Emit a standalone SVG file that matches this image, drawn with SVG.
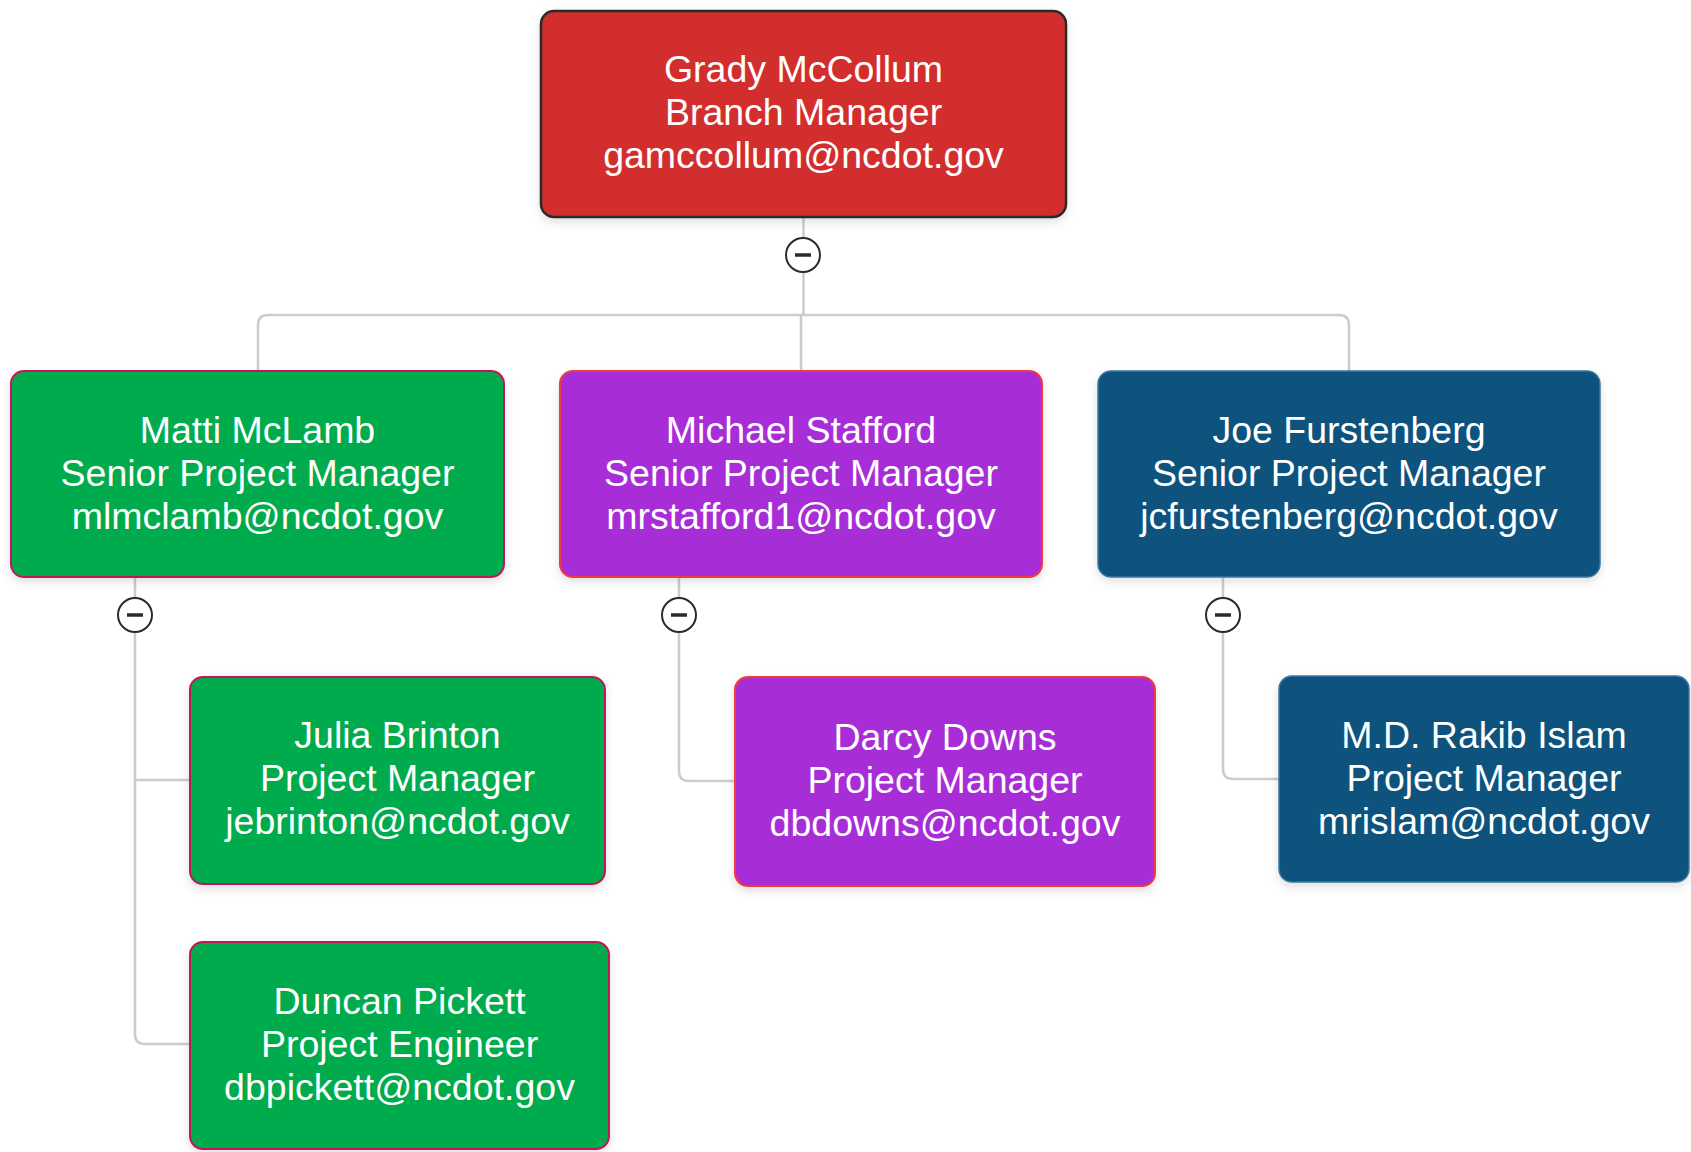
<svg xmlns="http://www.w3.org/2000/svg" width="1691" height="1152" viewBox="0 0 1691 1152">
<defs>
<filter id="sh" x="-10%" y="-10%" width="120%" height="130%">
<feDropShadow dx="0" dy="4" stdDeviation="5" flood-color="#000" flood-opacity="0.12"/>
</filter>
</defs>
<style>
.box{filter:url(#sh);}
.red{fill:#D32F2F;stroke:#2a2a2a;stroke-width:2.5;}
.green{fill:#00AB4E;stroke:#C2185B;stroke-width:2;}
.purple{fill:#A72ED6;stroke:#F03A3A;stroke-width:2;}
.blue{fill:#08527E;stroke:#3D77A3;stroke-width:1.5;}
.t{font-family:"Liberation Sans",Arial,sans-serif;font-size:37.5px;fill:#fff;text-anchor:middle;}
.conn{fill:none;stroke:#CCCCCC;stroke-width:2.5;}
.tog circle{fill:#fff;stroke:#2b2b2b;stroke-width:2;}
.tog line{stroke:#2b2b2b;stroke-width:3.5;}
</style>
<rect width="1691" height="1152" fill="#fff"/>
<g id="connectors">
<path class="conn" d="M803.5,217 V315"/>
<path class="conn" d="M258,371 V325 Q258,315 268,315 H1339 Q1349,315 1349,325 V371"/>
<path class="conn" d="M801,315 V371"/>
<path class="conn" d="M135,577 V1034 Q135,1044 145,1044 H190"/>
<path class="conn" d="M135,780 H190"/>
<path class="conn" d="M679,577 V771 Q679,781 689,781 H735"/>
<path class="conn" d="M1223,577 V769 Q1223,779 1233,779 H1279"/>
</g>
<g id="toggles">
<g class="tog"><circle cx="803" cy="255" r="17"/><line x1="795" y1="255" x2="811" y2="255"/></g>
<g class="tog"><circle cx="135" cy="615" r="17"/><line x1="127" y1="615" x2="143" y2="615"/></g>
<g class="tog"><circle cx="679" cy="615" r="17"/><line x1="671" y1="615" x2="687" y2="615"/></g>
<g class="tog"><circle cx="1223" cy="615" r="17"/><line x1="1215" y1="615" x2="1231" y2="615"/></g>
</g>
<g id="node-grady">
<rect class="box red" x="541" y="11" width="525" height="206" rx="13"/>
<text class="t" x="803.5" y="82">Grady McCollum<tspan x="803.5" dy="43">Branch Manager</tspan><tspan x="803.5" dy="43">gamccollum@ncdot.gov</tspan></text>
</g>
<g id="node-matti">
<rect class="box green" x="11" y="371" width="493" height="206" rx="13"/>
<text class="t" x="257.5" y="443">Matti McLamb<tspan x="257.5" dy="43">Senior Project Manager</tspan><tspan x="257.5" dy="43">mlmclamb@ncdot.gov</tspan></text>
</g>
<g id="node-michael">
<rect class="box purple" x="560" y="371" width="482" height="206" rx="13"/>
<text class="t" x="801" y="443">Michael Stafford<tspan x="801" dy="43">Senior Project Manager</tspan><tspan x="801" dy="43">mrstafford1@ncdot.gov</tspan></text>
</g>
<g id="node-joe">
<rect class="box blue" x="1098" y="371" width="502" height="206" rx="13"/>
<text class="t" x="1349" y="443">Joe Furstenberg<tspan x="1349" dy="43">Senior Project Manager</tspan><tspan x="1349" dy="43">jcfurstenberg@ncdot.gov</tspan></text>
</g>
<g id="node-julia">
<rect class="box green" x="190" y="677" width="415" height="207" rx="13"/>
<text class="t" x="397.5" y="748">Julia Brinton<tspan x="397.5" dy="43">Project Manager</tspan><tspan x="397.5" dy="43">jebrinton@ncdot.gov</tspan></text>
</g>
<g id="node-darcy">
<rect class="box purple" x="735" y="677" width="420" height="209" rx="13"/>
<text class="t" x="945" y="750">Darcy Downs<tspan x="945" dy="43">Project Manager</tspan><tspan x="945" dy="43">dbdowns@ncdot.gov</tspan></text>
</g>
<g id="node-rakib">
<rect class="box blue" x="1279" y="676" width="410" height="206" rx="13"/>
<text class="t" x="1484" y="748">M.D. Rakib Islam<tspan x="1484" dy="43">Project Manager</tspan><tspan x="1484" dy="43">mrislam@ncdot.gov</tspan></text>
</g>
<g id="node-duncan">
<rect class="box green" x="190" y="942" width="419" height="207" rx="13"/>
<text class="t" x="399.5" y="1014">Duncan Pickett<tspan x="399.5" dy="43">Project Engineer</tspan><tspan x="399.5" dy="43">dbpickett@ncdot.gov</tspan></text>
</g>
</svg>
